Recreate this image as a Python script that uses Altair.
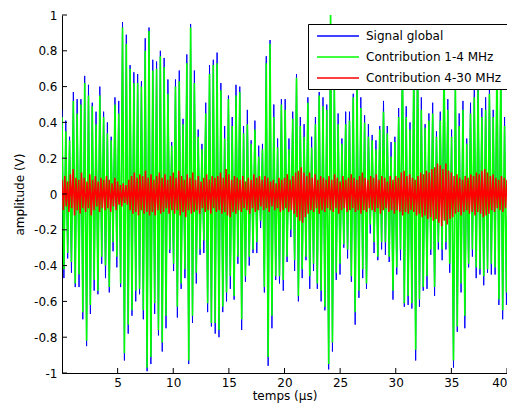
import altair as alt
import pandas as pd

# ---------------- data ----------------
names = ["Signal global", "Contribution 1-4 MHz", "Contribution 4-30 MHz"]
colors = ["#0000ff", "#00ff00", "#ff0000"]

x_ticks = [5, 10, 15, 20, 25, 30, 35, 40]
y_ticks = [-1, -0.8, -0.6, -0.4, -0.2, 0, 0.2, 0.4, 0.6, 0.8, 1]

cycle_us = 0.34      # spacing of successive positive peaks of the 1-4 MHz part
red_step_us = 0.25   # spacing of successive upper peaks of the 4-30 MHz part

# positive / negative peaks of the 1-4 MHz contribution (V)
green_top = [
    0.43, 0.35, 0.30, 0.52, 0.45, 0.50, 0.62, 0.55, 0.49, 0.39, 0.55, 0.43, 0.34, 0.30, 0.50, 0.45, 0.93, 0.84, 0.70, 0.62,
    0.62, 0.60, 0.80, 0.91, 0.69, 0.70, 0.77, 0.71, 0.56, 0.27, 0.60, 0.63, 0.39, 0.73, 0.93, 0.62, 0.32, 0.25, 0.45, 0.67,
    0.72, 0.73, 0.58, 0.31, 0.53, 0.38, 0.55, 0.57, 0.34, 0.39, 0.28, 0.36, 0.21, 0.25, 0.73, 0.84, 0.43, 0.26, 0.50, 0.47,
    0.25, 0.42, 0.65, 0.38, 0.32, 0.51, 0.26, 0.39, 0.55, 0.49, 0.47, 1.00, 0.60, 0.39, 0.28, 0.39, 0.41, 0.54, 0.60, 0.48,
    0.40, 0.32, 0.30, 0.25, 0.36, 0.46, 0.34, 0.21, 0.29, 0.43, 0.75, 0.43, 0.36, 0.72, 0.78, 0.47, 0.37, 0.41, 0.45, 0.32,
    0.41, 0.72, 0.47, 0.32, 0.62, 0.38, 0.47, 0.28, 0.45, 0.54, 0.58, 0.43, 0.47, 0.56, 0.43, 0.75, 0.70, 0.38, 0.32, 0.43,
]
green_bot = [
    -0.42, -0.33, -0.38, -0.50, -0.45, -0.66, -0.82, -0.62, -0.48, -0.54, -0.35, -0.40, -0.52, -0.27, -0.35, -0.50, -0.89, -0.73, -0.65, -0.54,
    -0.53, -0.65, -0.97, -0.91, -0.61, -0.76, -0.83, -0.68, -0.31, -0.39, -0.63, -0.50, -0.42, -0.93, -0.68, -0.44, -0.31, -0.26, -0.61, -0.72,
    -0.72, -0.76, -0.63, -0.55, -0.46, -0.57, -0.35, -0.70, -0.46, -0.35, -0.31, -0.27, -0.15, -0.52, -0.91, -0.68, -0.46, -0.46, -0.48, -0.35,
    -0.20, -0.37, -0.57, -0.42, -0.35, -0.46, -0.39, -0.50, -0.54, -0.63, -0.95, -0.83, -0.44, -0.39, -0.28, -0.31, -0.46, -0.66, -0.54, -0.42,
    -0.50, -0.17, -0.27, -0.35, -0.27, -0.27, -0.35, -0.54, -0.41, -0.31, -0.61, -0.57, -0.61, -0.87, -0.59, -0.52, -0.46, -0.31, -0.52, -0.27,
    -0.31, -0.27, -0.39, -0.93, -0.74, -0.50, -0.68, -0.39, -0.31, -0.41, -0.42, -0.46, -0.42, -0.39, -0.41, -0.59, -0.65, -0.55, -0.50, -0.39,
]

# how far the global signal's peaks reach beyond the 1-4 MHz peaks (V)
blue_top_excess = [
    0.04, 0.06, 0.02, 0.05, 0.08, 0.03, 0.04, 0.06, 0.02, 0.07, 0.05, 0.03, 0.06, 0.02, 0.04, 0.07, 0.03, 0.05, 0.02, 0.06,
    0.05, 0.03, 0.07, 0.02, 0.06, 0.04, 0.03, 0.05, 0.08, 0.02, 0.04, 0.06, 0.03, 0.05, 0.02, 0.07, 0.04, 0.03, 0.06, 0.05,
    0.03, 0.06, 0.04, 0.07, 0.02, 0.05, 0.06, 0.03, 0.04, 0.08, 0.02, 0.05, 0.06, 0.03, 0.04, 0.02, 0.07, 0.05, 0.03, 0.06,
    0.06, 0.04, 0.02, 0.05, 0.07, 0.03, 0.06, 0.04, 0.02, 0.05, 0.03, 0.00, 0.04, 0.06, 0.03, 0.07, 0.05, 0.02, 0.04, 0.06,
    0.04, 0.07, 0.03, 0.05, 0.02, 0.06, 0.04, 0.08, 0.03, 0.05, 0.02, 0.06, 0.04, 0.03, 0.05, 0.07, 0.02, 0.04, 0.06, 0.03,
    0.05, 0.03, 0.06, 0.04, 0.02, 0.07, 0.05, 0.03, 0.06, 0.04, 0.02, 0.05, 0.07, 0.03, 0.04, 0.06, 0.02, 0.05, 0.03, 0.06,
]
blue_bot_excess = [
    0.05, 0.03, 0.06, 0.02, 0.07, 0.04, 0.03, 0.05, 0.06, 0.02, 0.04, 0.07, 0.03, 0.05, 0.06, 0.02, 0.04, 0.05, 0.03, 0.06,
    0.03, 0.05, 0.02, 0.04, 0.06, 0.03, 0.05, 0.07, 0.02, 0.04, 0.06, 0.03, 0.05, 0.02, 0.04, 0.06, 0.03, 0.07, 0.05, 0.02,
    0.06, 0.04, 0.03, 0.05, 0.07, 0.02, 0.04, 0.06, 0.03, 0.05, 0.02, 0.06, 0.04, 0.03, 0.05, 0.07, 0.02, 0.04, 0.06, 0.03,
    0.04, 0.06, 0.03, 0.05, 0.02, 0.07, 0.04, 0.03, 0.06, 0.02, 0.03, 0.05, 0.04, 0.06, 0.02, 0.05, 0.03, 0.07, 0.04, 0.05,
    0.03, 0.05, 0.06, 0.02, 0.04, 0.07, 0.03, 0.05, 0.04, 0.06, 0.02, 0.05, 0.03, 0.06, 0.04, 0.02, 0.07, 0.03, 0.05, 0.04,
    0.06, 0.04, 0.05, 0.04, 0.03, 0.05, 0.07, 0.02, 0.04, 0.06, 0.03, 0.05, 0.02, 0.06, 0.04, 0.03, 0.05, 0.07, 0.02, 0.04,
]

# upper / lower peaks of the 4-30 MHz contribution (V)
red_top = [
    0.08, 0.10, 0.07, 0.11, 0.14, 0.09, 0.08, 0.12, 0.09, 0.07, 0.11, 0.08, 0.10, 0.07, 0.09, 0.08,
    0.10, 0.08, 0.06, 0.09, 0.07, 0.05, 0.06, 0.05, 0.08, 0.10, 0.12, 0.09, 0.11, 0.10, 0.13, 0.09,
    0.11, 0.08, 0.10, 0.12, 0.09, 0.11, 0.08, 0.10, 0.12, 0.09, 0.13, 0.10, 0.08, 0.11, 0.09, 0.12,
    0.08, 0.10, 0.07, 0.09, 0.11, 0.08, 0.10, 0.09, 0.10, 0.12, 0.09, 0.14, 0.11, 0.08, 0.10, 0.09,
    0.08, 0.10, 0.07, 0.09, 0.08, 0.11, 0.09, 0.10, 0.08, 0.10, 0.09, 0.07, 0.08, 0.06, 0.09, 0.08,
    0.09, 0.11, 0.08, 0.10, 0.12, 0.13, 0.15, 0.12, 0.10, 0.12, 0.09, 0.11, 0.08, 0.10, 0.09, 0.08,
    0.10, 0.08, 0.11, 0.09, 0.07, 0.10, 0.08, 0.09, 0.11, 0.09, 0.08, 0.10, 0.12, 0.09, 0.08, 0.10,
    0.09, 0.11, 0.08, 0.10, 0.09, 0.07, 0.10, 0.08, 0.10, 0.09, 0.12, 0.13, 0.10, 0.11, 0.09, 0.08,
    0.10, 0.12, 0.11, 0.13, 0.12, 0.14, 0.15, 0.17, 0.16, 0.14, 0.17, 0.13, 0.12, 0.10, 0.11, 0.09,
    0.08, 0.10, 0.09, 0.11, 0.10, 0.12, 0.11, 0.13, 0.14, 0.12, 0.10, 0.11, 0.09, 0.08, 0.10, 0.09,
    0.08, 0.07, 0.08,
]
red_bot = [
    -0.09, -0.07, -0.10, -0.08, -0.12, -0.09, -0.11, -0.08, -0.10, -0.08, -0.12, -0.09, -0.07, -0.10, -0.08, -0.09,
    -0.08, -0.10, -0.07, -0.09, -0.06, -0.07, -0.05, -0.06, -0.09, -0.11, -0.10, -0.12, -0.09, -0.11, -0.10, -0.12,
    -0.10, -0.12, -0.09, -0.11, -0.10, -0.08, -0.11, -0.09, -0.11, -0.09, -0.12, -0.10, -0.13, -0.09, -0.11, -0.10,
    -0.09, -0.11, -0.08, -0.10, -0.09, -0.11, -0.08, -0.10, -0.09, -0.11, -0.10, -0.12, -0.13, -0.10, -0.11, -0.09,
    -0.10, -0.08, -0.09, -0.11, -0.08, -0.10, -0.09, -0.07, -0.09, -0.08, -0.10, -0.07, -0.09, -0.08, -0.10, -0.09,
    -0.08, -0.10, -0.09, -0.11, -0.13, -0.15, -0.16, -0.13, -0.11, -0.09, -0.10, -0.08, -0.11, -0.09, -0.10, -0.08,
    -0.09, -0.10, -0.08, -0.11, -0.09, -0.08, -0.10, -0.09, -0.08, -0.10, -0.09, -0.11, -0.09, -0.10, -0.08, -0.09,
    -0.10, -0.08, -0.11, -0.09, -0.08, -0.10, -0.09, -0.11, -0.09, -0.10, -0.12, -0.10, -0.11, -0.09, -0.10, -0.12,
    -0.11, -0.13, -0.12, -0.14, -0.13, -0.15, -0.14, -0.16, -0.18, -0.15, -0.17, -0.14, -0.13, -0.11, -0.10, -0.12,
    -0.10, -0.09, -0.11, -0.10, -0.12, -0.10, -0.11, -0.13, -0.12, -0.11, -0.09, -0.10, -0.08, -0.09, -0.10, -0.08,
    -0.07, -0.08, -0.07,
]

# ---------------- tables ----------------
def zigzag(tops, bots, step, serie):
    rows = []
    for i, (a, b) in enumerate(zip(tops, bots)):
        rows.append({"t": round(i * step, 4), "v": a, "serie": serie, "k": 2 * i})
        rows.append({"t": round(i * step + step / 2, 4), "v": b, "serie": serie, "k": 2 * i + 1})
    return pd.DataFrame(rows)

blue_df = zigzag([g + e for g, e in zip(green_top, blue_top_excess)],
                 [g - e for g, e in zip(green_bot, blue_bot_excess)], cycle_us, names[0])
green_df = zigzag(green_top, green_bot, cycle_us, names[1])
red_df = zigzag(red_top, red_bot, red_step_us, names[2])

xt_df = pd.DataFrame({"t": x_ticks})
yt_df = pd.DataFrame({"v": y_ticks})

# ---------------- chart ----------------
FONT = "DejaVu Sans"
FS = 12
W, H = 445, 358

xscale = alt.Scale(domain=[0, 40], nice=False, zero=False)
yscale = alt.Scale(domain=[-1, 1], nice=False)

color = alt.Color(
    "serie:N",
    scale=alt.Scale(domain=names, range=colors),
    legend=alt.Legend(
        title=None, orient="none", legendX=246, legendY=9,
        symbolType="M-3.5,0H3.5", symbolSize=144, symbolStrokeWidth=1.5,
        symbolOffset=18, labelOffset=21,
        labelFont=FONT, labelFontSize=FS, labelColor="black", labelLimit=0,
        rowPadding=8, padding=5,
        fillColor="white", strokeColor="black", cornerRadius=0,
    ),
)

xaxis = alt.Axis(values=x_ticks, title="temps (µs)", ticks=False, grid=False,
                 labelPadding=4, titlePadding=2, domainColor="black",
                 labelOverlap=False, labelFlush=False,
                 labelAlign={"condition": {"test": "datum.value >= 40", "value": "right"},
                             "value": "center"},
                 labelExpr="'' + datum.value")
yaxis = alt.Axis(values=y_ticks, title="amplitude (V)", ticks=False, grid=False,
                 labelPadding=5, titlePadding=7, domainColor="black",
                 labelOverlap=False, labelFlush=False,
                 labelExpr="'' + datum.value")

xenc = alt.X("t:Q", scale=xscale, axis=xaxis)
yenc = alt.Y("v:Q", scale=yscale, axis=yaxis)

def line_layer(df, sw):
    return alt.Chart(df).mark_line(strokeWidth=sw, clip=True, interpolate="linear").encode(
        x=xenc, y=yenc, color=color, order="k:Q"
    )

xticks_layer = alt.Chart(xt_df).mark_rule(color="black", strokeWidth=1).encode(
    x=alt.X("t:Q", scale=xscale, axis=xaxis), y=alt.value(H - 5), y2=alt.value(H)
)
yticks_layer = alt.Chart(yt_df).mark_rule(color="black", strokeWidth=1).encode(
    y=alt.Y("v:Q", scale=yscale, axis=yaxis), x=alt.value(0), x2=alt.value(5)
)

chart = alt.layer(
    line_layer(blue_df, 1.0), line_layer(green_df, 1.6), line_layer(red_df, 1.5),
    xticks_layer, yticks_layer
).properties(
    width=W, height=H,
    autosize=alt.AutoSizeParams(type="none"),
    padding={"left": 54, "top": 7, "right": 0, "bottom": 31},
    background="white",
).configure_view(stroke=None).configure_axis(
    labelFont=FONT, labelFontSize=FS, labelColor="black", labelOverlap=False,
    titleFont=FONT, titleFontSize=FS, titleFontWeight="normal", titleColor="black",
)

chart.save("out.html", embed_options={"renderer": "svg", "actions": False})
